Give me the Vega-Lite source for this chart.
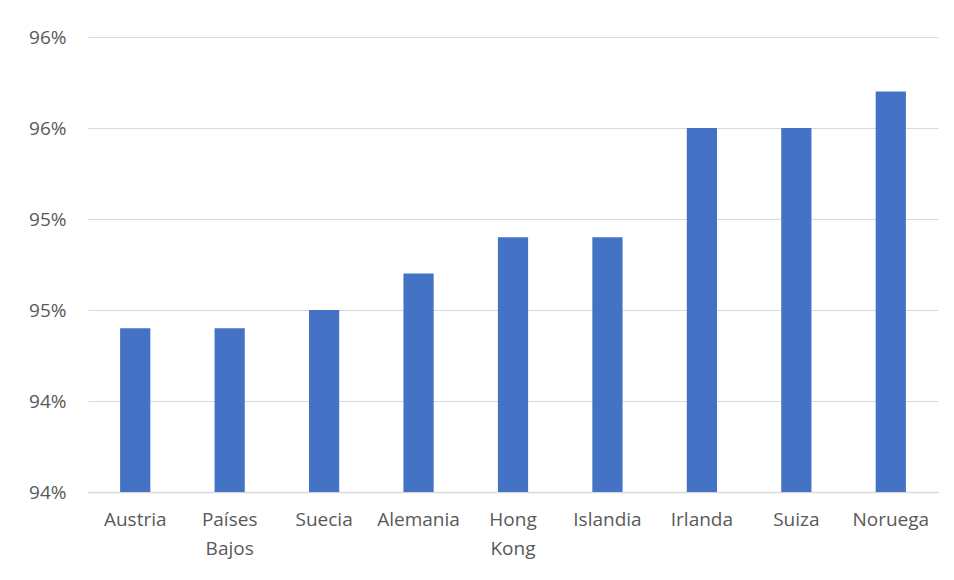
{
  "$schema": "https://vega.github.io/schema/vega-lite/v6.json",
  "width": 850,
  "height": 455,
  "padding": {"left": 88, "top": 37, "right": 16, "bottom": 88},
  "autosize": {"type": "none"},
  "background": "white",
  "data": {
    "values": [
      {"pais": "Austria", "valor": 0.949},
      {"pais": "Países Bajos", "valor": 0.949},
      {"pais": "Suecia", "valor": 0.950},
      {"pais": "Alemania", "valor": 0.952},
      {"pais": "Hong Kong", "valor": 0.954},
      {"pais": "Islandia", "valor": 0.954},
      {"pais": "Irlanda", "valor": 0.960},
      {"pais": "Suiza", "valor": 0.960},
      {"pais": "Noruega", "valor": 0.962}
    ]
  },
  "config": {
    "view": {"stroke": null},
    "font": "Open Sans"
  },
  "mark": {"type": "bar", "color": "#4472C4", "clip": true},
  "encoding": {
    "x": {
      "field": "pais",
      "type": "nominal",
      "sort": null,
      "title": null,
      "scale": {"paddingInner": 0.68, "paddingOuter": 0.34},
      "axis": {
        "labelAngle": 0,
        "labelExpr": "split(datum.label, ' ')",
        "labelFontSize": 19,
        "labelColor": "#595959",
        "labelLineHeight": 29,
        "labelPadding": 18,
        "domainColor": "#D9D9D9",
        "domainWidth": 1.5,
        "ticks": false,
        "grid": false
      }
    },
    "y": {
      "field": "valor",
      "type": "quantitative",
      "title": null,
      "scale": {"domain": [0.94, 0.965], "nice": false, "zero": false},
      "axis": {
        "values": [0.94, 0.945, 0.95, 0.955, 0.96, 0.965],
        "labelExpr": "floor(datum.value * 100 + 0.001) + '%'",
        "labelFontSize": 19,
        "labelColor": "#595959",
        "labelPadding": 22,
        "domain": false,
        "ticks": false,
        "gridColor": "#D9D9D9",
        "gridWidth": 1.2
      }
    }
  }
}
